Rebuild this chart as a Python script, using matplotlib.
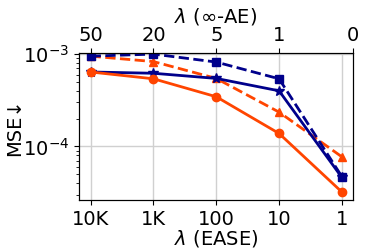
import numpy as np
import matplotlib.pyplot as plt

ease_labels = ['10K', '1K', '100', '10', '1']
ae_labels = ['50', '20', '5', '1', '0']

ease_solid = [6.4e-4, 5.4e-4, 3.45e-4, 1.38e-4, 3.2e-5]
ease_dashed = [9.5e-4, 8.3e-4, 5.45e-4, 2.35e-4, 7.7e-5]
ae_solid = [6.4e-4, 6.2e-4, 5.45e-4, 4.0e-4, 4.6e-5]
ae_dashed = [9.5e-4, 1.0e-3, 8.2e-4, 5.4e-4, 4.7e-5]

orange = '#ff4500'
blue = '#00008b'
x = np.arange(len(ease_labels))

plt.rcParams['font.size'] = 14
fig, ax = plt.subplots(figsize=(3.66, 2.52), dpi=100)
fig.subplots_adjust(left=0.215, right=0.965, top=0.79, bottom=0.205)

ax.plot(x, ease_dashed, '--', color=orange, marker='^', markersize=6, linewidth=2)
ax.plot(x, ae_dashed, '--', color=blue, marker='s', markersize=6, linewidth=2)
ax.plot(x, ae_solid, '-', color=blue, marker='*', markersize=7, linewidth=2)
ax.plot(x, ease_solid, '-', color=orange, marker='o', markersize=6, linewidth=2)

ax.set_yscale('log')
ax.set_ylim(2.6e-5, 1.03e-3)
ax.set_xlim(-0.19, 4.18)
ax.set_xticks(x)
ax.set_xticklabels(ease_labels)
ax.set_xlabel(r'$\lambda$ (EASE)', labelpad=-0.5)
ax.set_ylabel('MSE↓', labelpad=-1)
ax.grid(True, which='major', color='#d0d0d0', linewidth=1)
ax.tick_params(axis='y', which='minor', labelleft=False)

top = ax.twiny()
top.set_xlim(ax.get_xlim())
top.set_xticks([0, 1, 2, 3, 4.18])
top.set_xticklabels(ae_labels)
top.tick_params(axis='x', pad=2)
top.set_xlabel(r'$\lambda$ ($\infty$-AE)', labelpad=3)

fig.savefig('out.png', dpi=100)
